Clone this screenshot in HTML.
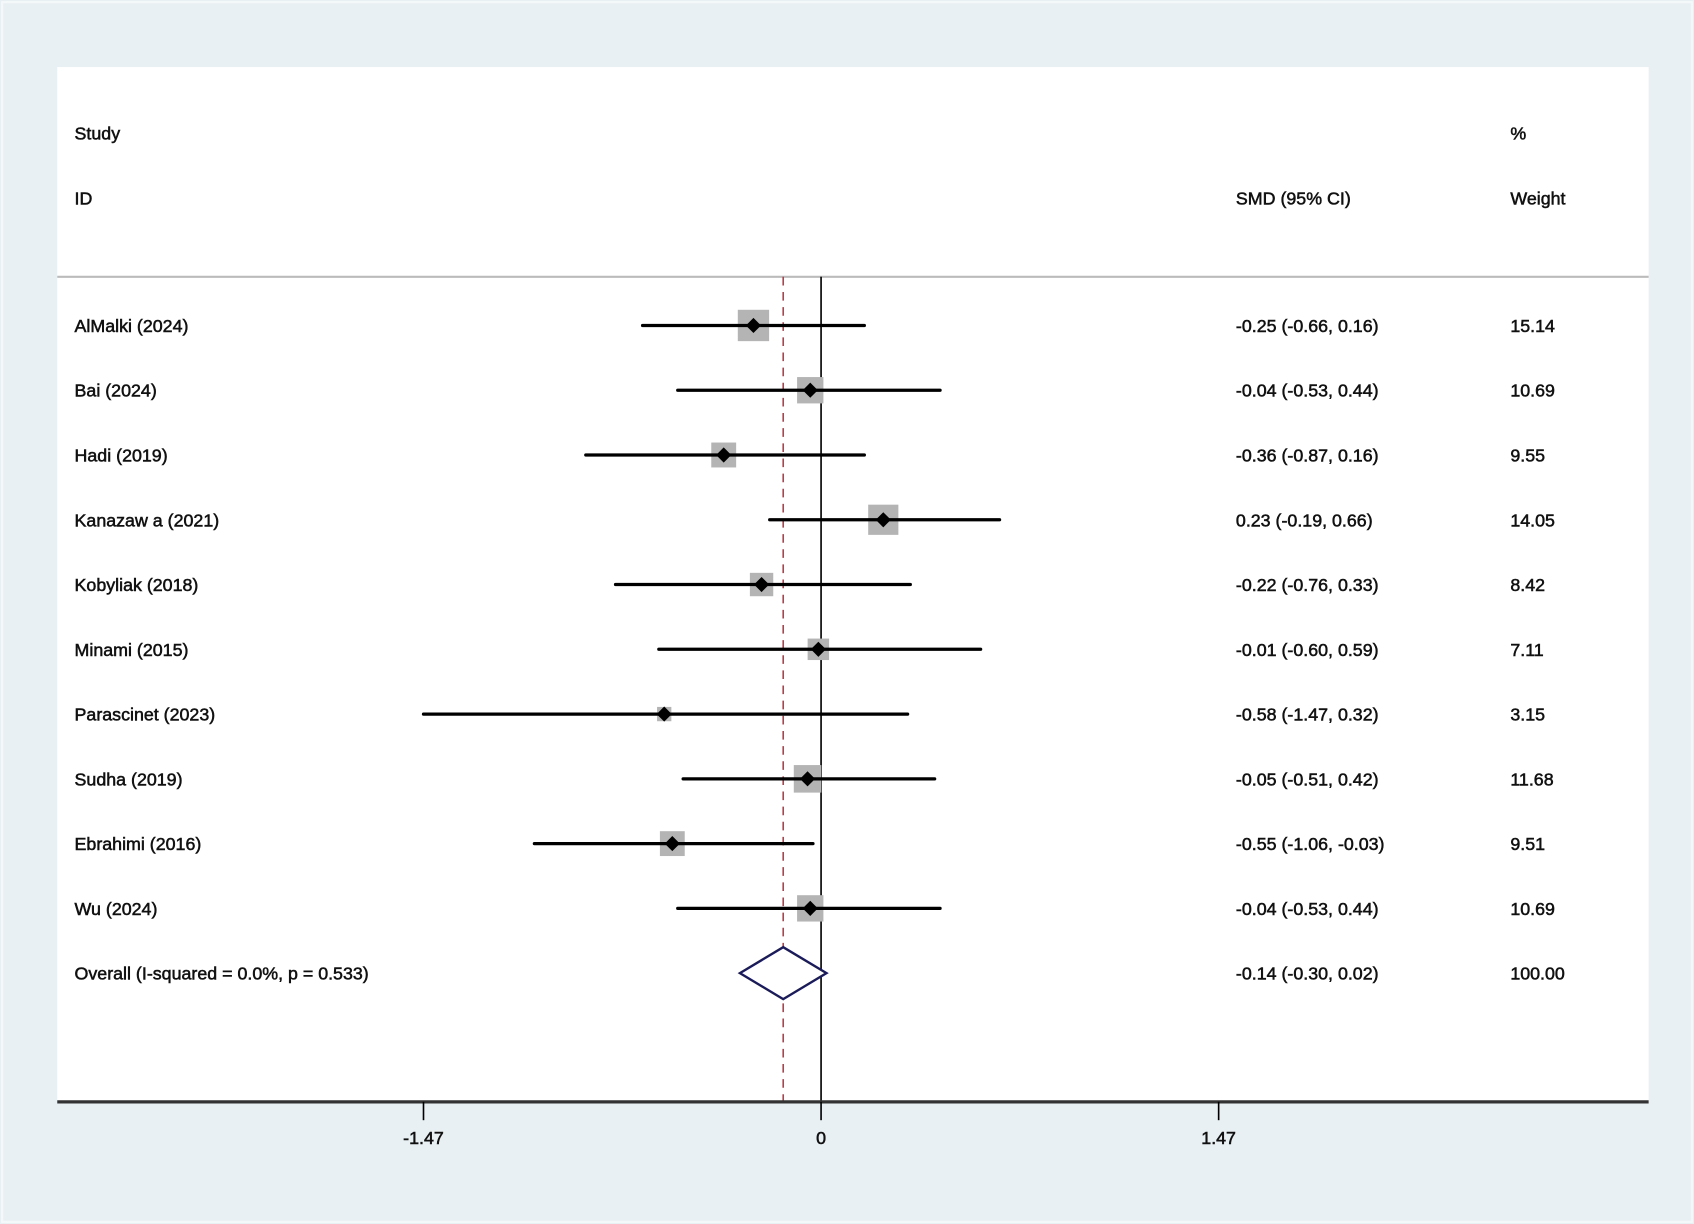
<!DOCTYPE html>
<html><head><meta charset="utf-8"><style>
html,body{margin:0;padding:0;background:#e9f0f3;}
svg{display:block;}
text{font-family:"Liberation Sans",Arial,sans-serif;font-size:16.5px;fill:#111;stroke:#111;stroke-width:0.5;}
</style></head><body>
<svg id="chart" width="1694" height="1224" viewBox="0 0 1568 1132" preserveAspectRatio="none" xmlns="http://www.w3.org/2000/svg">
<rect x="0" y="0" width="1568" height="1132" fill="#e9f0f3"/>
<rect x="2" y="2" width="1564" height="1128" fill="none" stroke="#f4f8f9" stroke-width="2"/>
<rect x="53" y="62" width="1473" height="956" fill="#ffffff"/>
<text x="69" y="129">Study</text>
<text x="69" y="189">ID</text>
<text x="1144" y="189">SMD (95% CI)</text>
<text x="1398" y="129">%</text>
<text x="1398" y="189">Weight</text>
<line x1="53" y1="256" x2="1526" y2="256" stroke="#bbbbbb" stroke-width="2"/>
<g id="marks"></g>
</svg>
<script>
const studies=["AlMalki (2024)","Bai (2024)","Hadi (2019)","Kanazaw a (2021)","Kobyliak (2018)","Minami (2015)","Parascinet (2023)","Sudha (2019)","Ebrahimi  (2016)","Wu (2024)"];
const smd=[-0.25,-0.04,-0.36,0.23,-0.22,-0.01,-0.58,-0.05,-0.55,-0.04];
const lower=[-0.66,-0.53,-0.87,-0.19,-0.76,-0.60,-1.47,-0.51,-1.06,-0.53];
const upper=[0.16,0.44,0.16,0.66,0.33,0.59,0.32,0.42,-0.03,0.44];
const weights=[15.14,10.69,9.55,14.05,8.42,7.11,3.15,11.68,9.51,10.69];
const overall=[-0.14,-0.30,0.02];
const overallLabel="Overall  (I-squared = 0.0%, p = 0.533)";
const overallWeight="100.00";
const ticks=[-1.47,0,1.47];
const tickLabels=["-1.47","0","1.47"];

const NS="http://www.w3.org/2000/svg";
const g=document.getElementById('marks');
const X=v=>760+v*(368/1.47);
const Y=i=>301+i*59.9;
function mk(tag,attrs,parent){const e=document.createElementNS(NS,tag);for(const k in attrs)e.setAttribute(k,attrs[k]);(parent||g).appendChild(e);return e;}
const f=v=>v.toFixed(2);

let e=mk('line',{x1:X(0),y1:256,x2:X(0),y2:1018,stroke:'#000','stroke-width':1.5});


e=mk('line',{x1:X(overall[0]),y1:256,x2:X(overall[0]),y2:1018,stroke:'#b5404a','stroke-width':1.5,'stroke-dasharray':'8,6'});



studies.forEach((s,i)=>{
  const y=Y(i);
  const sz=29*Math.sqrt(weights[i]/15.14);
  let r=mk('rect',{x:X(smd[i])-sz/2,y:y-sz/2,width:sz,height:sz,fill:'#b4b4b4'});
  
  
  let l=mk('line',{x1:X(lower[i]),y1:y,x2:X(upper[i]),y2:y,stroke:'#000','stroke-width':3,'stroke-linecap':'round'});
  
  
  const c=X(smd[i]);
  let d=mk('polygon',{points:`${c-7},${y} ${c},${y-7} ${c+7},${y} ${c},${y+7}`,fill:'#000'});
  
  
  let t=mk('text',{x:69,y:y+6});t.textContent=s;
  
  
  t=mk('text',{x:1144,y:y+6});t.textContent=`${f(smd[i])} (${f(lower[i])}, ${f(upper[i])})`;
  
  
  t=mk('text',{x:1398,y:y+6});t.textContent=f(weights[i]);
  
  
});
const oy=Y(10);
let dm=mk('polygon',{points:`${X(overall[1])},${oy} ${X(overall[0])},${oy-24} ${X(overall[2])},${oy} ${X(overall[0])},${oy+24}`,fill:'#fff',stroke:'#1b1b5a','stroke-width':2.2});


let ot=mk('text',{x:69,y:oy+6});ot.textContent=overallLabel;


ot=mk('text',{x:1144,y:oy+6});ot.textContent=`${f(overall[0])} (${f(overall[1])}, ${f(overall[2])})`;


ot=mk('text',{x:1398,y:oy+6});ot.textContent=overallWeight;



let ax=mk('line',{x1:53,y1:1019,x2:1526,y2:1019,stroke:'#333','stroke-width':3});


ticks.forEach((v,i)=>{
  let tk=mk('line',{x1:X(v),y1:1019,x2:X(v),y2:1036,stroke:'#000','stroke-width':1.5});
  
  
  let tl=mk('text',{x:X(v),y:1058,'text-anchor':'middle','font-size':'15'});tl.textContent=tickLabels[i];
  
  
});
</script>
</body></html>
